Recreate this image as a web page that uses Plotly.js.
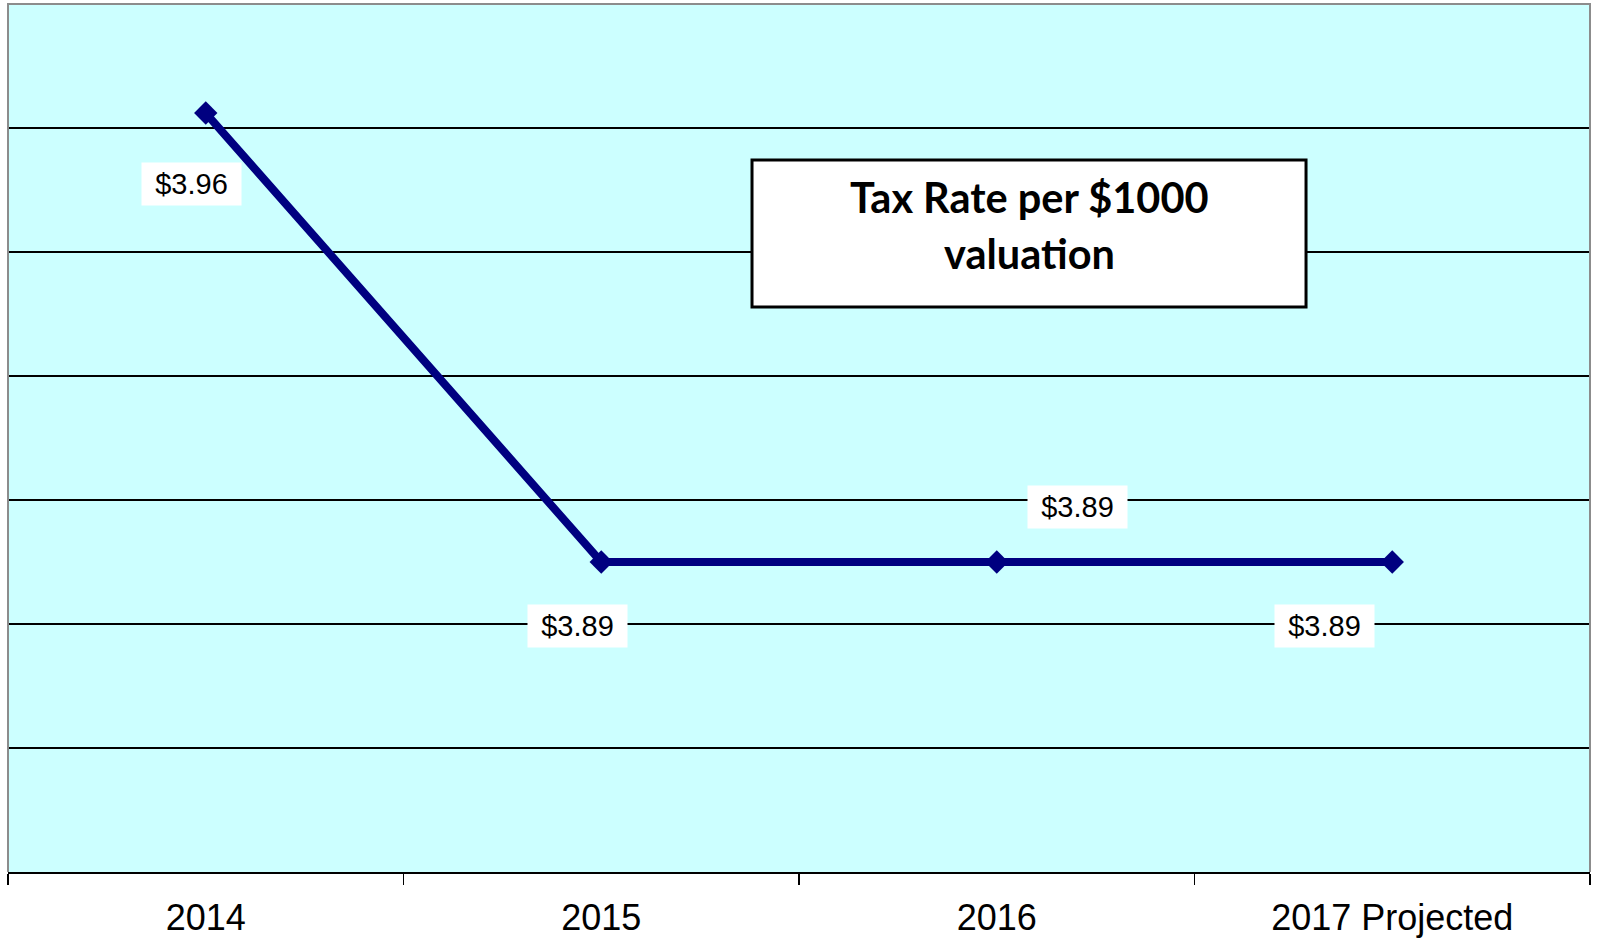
<!DOCTYPE html>
<html>
<head>
<meta charset="utf-8">
<script src="https://cdn.plot.ly/plotly-3.0.1.min.js"></script>
<style>html,body{margin:0;padding:0;background:#fff;}#chart{width:1600px;height:938px;}</style>
</head>
<body>
<div id="chart"></div>
<script>
var years = ['2014', '2015', '2016', '2017 Projected'];
var taxRate = [3.9624, 3.89, 3.89, 3.89];
var titleLines = ['Tax Rate per $1000', 'valuation'];

// label offsets (pixels) relative to each point
var labelShift = [[-14, -71], [-24, -64], [81, 55], [-68, -64]];
var titleLineY = [0.7771, 0.7137];

var trace = {
  x: years,
  y: taxRate,
  type: 'scatter',
  mode: 'lines+markers',
  line: {color: '#000080', width: 8},
  marker: {symbol: 'diamond', size: 18, color: '#000080'},
  hoverinfo: 'x+y'
};

var annotations = years.map(function (yr, i) {
  return {
    x: i, y: taxRate[i], xref: 'x', yref: 'y',
    text: '$' + taxRate[i].toFixed(2),
    showarrow: false,
    xshift: labelShift[i][0], yshift: labelShift[i][1],
    bgcolor: '#ffffff', borderpad: 0, width: 99, height: 42,
    font: {family: 'Liberation Sans, Arial, sans-serif', size: 29, color: '#000'}
  };
});

titleLines.forEach(function (t, i) {
  annotations.push({
    xref: 'paper', yref: 'paper', x: 0.6454, y: titleLineY[i],
    xanchor: 'center', yanchor: 'middle',
    text: t, showarrow: false,
    font: {family: 'Lato, Open Sans, sans-serif', size: 41.5, color: '#000', weight: 700}
  });
});

var layout = {
  width: 1600, height: 938,
  margin: {l: 8, r: 10, t: 4, b: 66},
  paper_bgcolor: '#ffffff',
  plot_bgcolor: '#CCFFFF',
  showlegend: false,
  xaxis: {
    type: 'category',
    range: [-0.5, 3.5],
    showline: true, linecolor: '#000', linewidth: 2,
    ticks: 'outside', tickson: 'boundaries', ticklen: 11, tickcolor: '#000', tickwidth: 1.5,
    ticklabelstandoff: 13,
    showgrid: false, zeroline: false,
    tickfont: {family: 'Liberation Sans, Arial, sans-serif', size: 36, color: '#000'},
    fixedrange: true
  },
  yaxis: {
    range: [3.84, 3.97999],
    tick0: 3.84, dtick: 0.02,
    showgrid: true, gridcolor: '#000', gridwidth: 1.2,
    showticklabels: false, ticks: '', zeroline: false, showline: false,
    fixedrange: true
  },
  shapes: [{
    type: 'path', xref: 'paper', yref: 'paper',
    path: 'M 0 0 L 0 1 L 1 1 L 1 0',
    line: {color: '#8c8c8c', width: 2}
  }, {
    type: 'rect', xref: 'paper', yref: 'paper',
    x0: 0.4703, x1: 0.8205, y0: 0.6509, y1: 0.8203,
    fillcolor: '#ffffff', line: {color: '#000000', width: 3}
  }],
  annotations: annotations
};

Plotly.newPlot('chart', [trace], layout, {displayModeBar: false, staticPlot: true});
</script>
</body>
</html>
